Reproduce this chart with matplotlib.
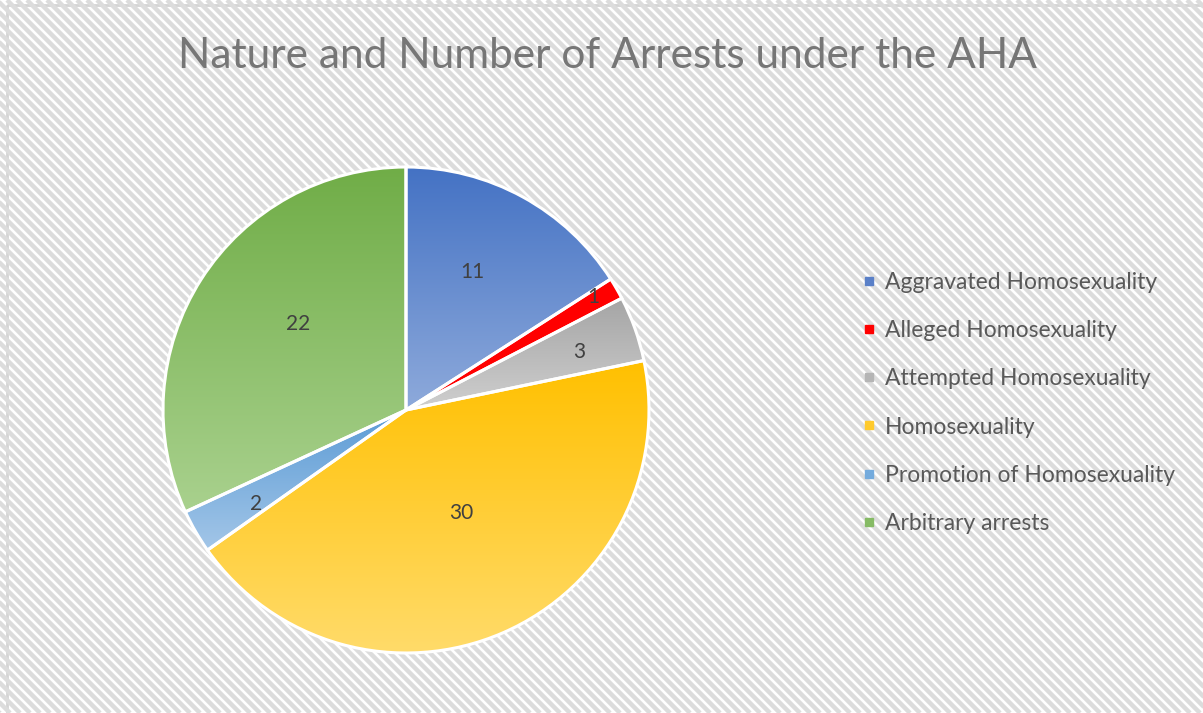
import numpy as np
import matplotlib
matplotlib.use("Agg")
import matplotlib.pyplot as plt
from matplotlib.collections import LineCollection
from matplotlib.colors import to_rgb
from matplotlib.lines import Line2D
from matplotlib.patches import Rectangle

# arrests by category
categories = ["Aggravated Homosexuality", "Alleged Homosexuality",
              "Attempted Homosexuality", "Homosexuality",
              "Promotion of Homosexuality", "Arbitrary arrests"]
arrests = [11, 1, 3, 30, 2, 22]

# gradient colours, top -> bottom of each slice
top_colors = ["#4472c4", "#ff0000", "#a5a5a5", "#ffc000", "#5b9bd5", "#70ad47"]
bottom_colors = ["#8eaadb", "#ff0000", "#cfcfcf", "#ffdb6a", "#a3c6e8", "#a9d18e"]
legend_colors = ["#5a80c8", "#ff0000", "#b5b5b5", "#ffca2c", "#74abdd", "#86bb65"]

# value label placement: fraction of radius, angle nudge in degrees
label_dist = [0.63, 0.9, 0.75, 0.48, 0.73, 0.57]
label_turn = [3, 1, -1, 5, 2, -6]

plt.rcParams["font.family"] = ["Lato", "DejaVu Sans"]

W, H = 1203, 713
fig = plt.figure(figsize=(W / 100, H / 100), dpi=100)

# striped background
bg = fig.add_axes([0, 0, 1, 1])
bg.set_xlim(0, W)
bg.set_ylim(H, 0)
bg.axis("off")
step = 10
offs = np.arange(-H, W + H, step)
segs = [[(c, 0), (c + H, H)] for c in offs]
bg.add_collection(LineCollection(segs, colors="#dcdcdc", linewidths=3.2))
bg.add_patch(Rectangle((7, 5), W + 20, H + 20, fill=False,
                       edgecolor="#d4d4d4", linewidth=2.0))

fig.text(607 / W, 1 - 56 / H, "Nature and Number of Arrests under the AHA",
         ha="center", va="center", fontsize=30.5, color="#767676")

# pie
R = 243
lim = 1.02
size = 2 * lim * R
cx, cy = 406, 410
ax = fig.add_axes([(cx - lim * R) / W, (H - cy - lim * R) / H, size / W, size / H])
wedges, _ = ax.pie(arrests, startangle=90, counterclock=False,
                   wedgeprops=dict(edgecolor="white", linewidth=2.2))

for w, c0, c1, d, t, v in zip(wedges, top_colors, bottom_colors,
                              label_dist, label_turn, arrests):
    bb = w.get_path().get_extents()
    grad = np.linspace(to_rgb(c0), to_rgb(c1), 256)[:, None, :]
    im = ax.imshow(grad, extent=(bb.x0, bb.x1, bb.y0, bb.y1), origin="upper",
                   aspect="auto", zorder=1, interpolation="bilinear")
    im.set_clip_path(w)
    w.set_facecolor("none")
    w.set_zorder(2)
    mid = np.deg2rad((w.theta1 + w.theta2) / 2 + t)
    ax.text(d * np.cos(mid), d * np.sin(mid), str(v), ha="center", va="center",
            fontsize=15, color="#404040", zorder=3)

ax.set_xlim(-lim, lim)
ax.set_ylim(-lim, lim)
ax.set_aspect("equal")
ax.axis("off")

handles = [Line2D([], [], linestyle="none", marker="s", markersize=6,
                  markerfacecolor=c, markeredgecolor=c) for c in legend_colors]
fig.legend(handles, categories, loc="center left",
           bbox_to_anchor=(841 / W, 1 - 403 / H), frameon=False,
           fontsize=16.5, labelcolor="#595959", labelspacing=1.18,
           handlelength=0.6, handletextpad=0.4)

fig.savefig("out.png", dpi=100)
